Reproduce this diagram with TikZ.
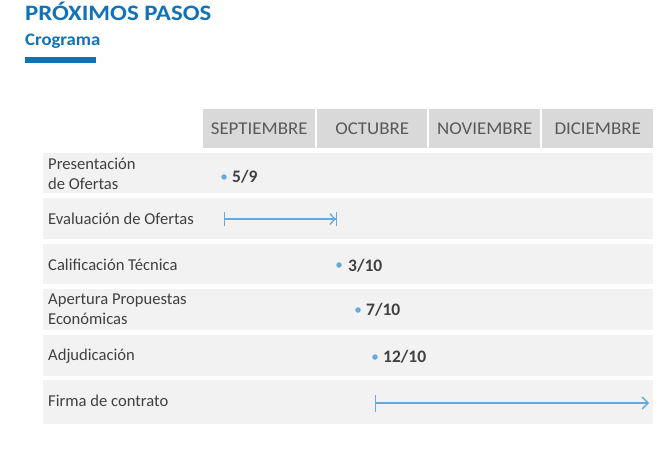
\documentclass[tikz,border=0pt]{standalone}
\usepackage{fontspec}
\setmainfont{Carlito}
\newfontfamily\titlefont[FakeStretch=1.13]{Carlito}
\newfontfamily\subfont[FakeStretch=1.07]{Carlito}
\newfontfamily\headfont[FakeStretch=1.05]{Carlito}
\usetikzlibrary{arrows.meta}
\definecolor{titleblue}{HTML}{1272B6}
\definecolor{rowgray}{HTML}{F2F2F2}
\definecolor{headgray}{HTML}{D9D9D9}
\definecolor{txt}{HTML}{404040}
\definecolor{headtxt}{HTML}{595959}
\definecolor{markblue}{HTML}{67A9DD}
\tikzset{
  rowbox/.style={fill=rowgray, draw=none, inner sep=0, anchor=north west, minimum width=610},
  headcell/.style={fill=headgray, draw=none, inner sep=0, anchor=north west, minimum height=39, text=headtxt, font=\headfont\fontsize{18}{21}\selectfont},
  rowlabel/.style={anchor=west, text=txt, font=\fontsize{16.6}{20.5}\selectfont, align=left, inner sep=0},
  datept/.style={circle, fill=markblue, draw=none, inner sep=0, minimum size=5.5},
  datelbl/.style={anchor=west, text=txt, font=\bfseries\fontsize{17.5}{20}\selectfont, inner sep=0},
  barrow/.style={draw=markblue, line width=1.3pt},
}
\begin{document}
\begin{tikzpicture}[x=1pt,y=-1pt]
\useasboundingbox (0,0) rectangle (662,452);
\fill[white] (0,0) rectangle (662,452);
% title
\node[anchor=base west, inner sep=0, text=titleblue, font=\titlefont\bfseries\fontsize{22}{25}\selectfont] (title) at (25,21) {PRÓXIMOS PASOS};
\node[anchor=base west, inner sep=0, text=titleblue, font=\subfont\bfseries\fontsize{17.5}{20}\selectfont] (sub) at (25,46) {Crograma};
\node[fill=titleblue, draw=none, inner sep=0, anchor=north west, minimum width=71, minimum height=6] (ul) at (25,57) {};
% header
\node[headcell, minimum width=112] (h1) at (203,109) {SEPTIEMBRE};
\node[headcell, minimum width=110] (h2) at (317,109) {OCTUBRE};
\node[headcell, minimum width=111] (h3) at (429,109) {NOVIEMBRE};
\node[headcell, minimum width=111] (h4) at (542,109) {DICIEMBRE};
% rows
\node[rowbox, minimum height=40] (r1) at (43,153) {};
\node[rowbox, minimum height=41] (r2) at (43,198) {};
\node[rowbox, minimum height=40] (r3) at (43,244) {};
\node[rowbox, minimum height=41] (r4) at (43,289) {};
\node[rowbox, minimum height=41] (r5) at (43,335) {};
\node[rowbox, minimum height=44] (r6) at (43,380) {};
% labels
\node[rowlabel] (l1) at (48,174) {Presentación\\de Ofertas};
\node[rowlabel] (l2) at (48,219) {Evaluación de Ofertas};
\node[rowlabel] (l3) at (48,265) {Calificación Técnica};
\node[rowlabel] (l4) at (48,309) {Apertura Propuestas\\Económicas};
\node[rowlabel] (l5) at (48,356) {Adjudicación};
\node[rowlabel] (l6) at (48,401) {Firma de contrato};
% dates
\node[datept] (d1) at (224,177) {};
\node[datelbl] (t1) at (232,177) {5/9};
\node[datept] (d3) at (339,265) {};
\node[datelbl] (t3) at (348,266) {3/10};
\node[datept] (d4) at (358,310) {};
\node[datelbl] (t4) at (366,310) {7/10};
\node[datept] (d5) at (375,357) {};
\node[datelbl] (t5) at (383,357) {12/10};
% arrows
\coordinate (e2s) at (224,219);
\coordinate (e2e) at (337,219);
\draw[barrow, {Bar[width=14pt]}-{Straight Barb[length=5pt,width=11pt]Bar[width=14pt]}] (e2s) -- (e2e);
\coordinate (e6s) at (375,403);
\coordinate (e6e) at (649,403);
\draw[barrow, {Bar[width=17pt]}-{Straight Barb[length=6pt,width=12pt]}] (e6s) -- (e6e);
\end{tikzpicture}
\end{document}
